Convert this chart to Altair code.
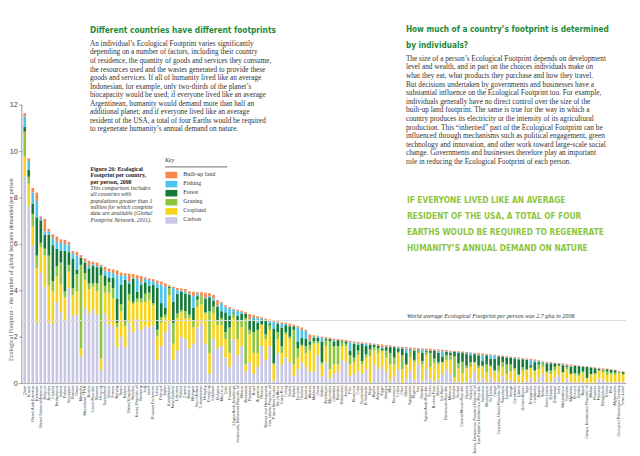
import altair as alt
import pandas as pd

countries = [
    "Qatar", "Kuwait", "United Arab Emirates", "Denmark", "United States of America", "Belgium", "Australia", "Canada", "Netherlands", "Ireland",
    "Finland", "Singapore", "Sweden", "Oman", "Mongolia", "Macedonia TFYR", "Austria", "Czech Republic", "Slovenia", "Uruguay",
    "Switzerland", "Greece", "France", "Norway", "Spain", "Estonia", "United Kingdom", "Slovakia", "Korea, Republic of", "Germany",
    "Italy", "Israel", "Russian Federation", "Latvia", "Portugal", "Japan", "Kazakhstan", "New Zealand", "Lithuania", "Poland",
    "Croatia", "Belarus", "Malaysia", "Saudi Arabia", "Turkmenistan", "Hungary", "Paraguay", "Lebanon", "Bulgaria", "Mauritius",
    "Chile", "Panama", "Libyan Arab Jamahiriya", "Venezuela, Bolivarian Republic of", "Mexico", "Botswana", "Romania", "Brazil", "Argentina", "Ukraine",
    "Bosnia and Herzegovina", "Iran, Islamic Republic of", "Papua New Guinea", "South Africa", "Costa Rica", "Turkey", "Serbia", "Bolivia", "Ecuador", "Thailand",
    "Jamaica", "Albania", "Moldova", "China", "Gabon", "Azerbaijan", "Mauritania", "Colombia", "Namibia", "Uzbekistan",
    "Jordan", "Peru", "Honduras", "Cuba", "Guatemala", "El Salvador", "Niger", "Algeria", "Armenia", "Egypt",
    "Georgia", "Mali", "Nicaragua", "Tunisia", "Chad", "Ghana", "Kyrgyzstan", "Nigeria", "Iraq", "Gambia",
    "Syrian Arab Republic", "Sudan", "Burkina Faso", "Benin", "Viet Nam", "Dominican Republic", "Morocco", "Somalia", "Guinea", "Central African Republic",
    "Uganda", "Senegal", "Korea, Democratic People's Republic of", "Lao People's Democratic Republic", "Indonesia", "Madagascar", "Sri Lanka", "Congo", "Tanzania, United Republic of", "Swaziland",
    "Lesotho", "Kenya", "Cameroon", "Liberia", "Guinea-Bissau", "Togo", "Philippines", "Cambodia", "Angola", "Yemen",
    "Sierra Leone", "Ethiopia", "Zimbabwe", "India", "Mozambique", "Tajikistan", "Myanmar", "Burundi", "Zambia", "Nepal",
    "Congo, Democratic Republic of", "Malawi", "Rwanda", "Pakistan", "Bangladesh", "Eritrea", "Haiti", "Afghanistan", "Occupied Palestinian Territory", "Timor-Leste",
]

carbon = [
    8.9, 7.65, 5.95, 2.55, 4.75, 4.15, 2.6, 2.55, 3.5, 3.05,
    2.7, 4.1, 2.9, 2.95, 1.15, 3.25, 3.0, 3.15, 2.95, 0.55,
    3.0, 2.55, 2.45, 1.55, 2.0, 1.55, 2.6, 2.2, 2.75, 2.3,
    2.45, 2.4, 2.5, 1.0, 1.6, 2.2, 2.6, 1.0, 1.4, 2.0,
    1.9, 1.5, 1.7, 2.4, 2.6, 1.7, 0.4, 1.9, 1.5, 1.6,
    1.1, 0.7, 1.9, 1.2, 1.6, 0.5, 0.9, 0.4, 0.7, 1.6,
    1.0, 1.6, 0.1, 1.3, 0.8, 1.1, 0.9, 0.3, 0.6, 0.9,
    0.7, 0.5, 0.5, 1.2, 0.3, 0.9, 0.2, 0.4, 0.5, 1.0,
    0.9, 0.3, 0.4, 0.5, 0.4, 0.6, 0.05, 0.8, 0.6, 0.7,
    0.5, 0.1, 0.3, 0.6, 0.0, 0.2, 0.5, 0.15, 0.8, 0.1,
    0.6, 0.2, 0.05, 0.2, 0.4, 0.6, 0.4, 0.05, 0.05, 0.02,
    0.05, 0.2, 0.5, 0.1, 0.2, 0.05, 0.25, 0.1, 0.05, 0.3,
    0.1, 0.15, 0.05, 0.02, 0.03, 0.1, 0.25, 0.05, 0.25, 0.4,
    0.05, 0.05, 0.25, 0.35, 0.05, 0.2, 0.05, 0.02, 0.05, 0.05,
    0.0, 0.02, 0.02, 0.2, 0.15, 0.05, 0.05, 0.05, 0.05, 0.05,
]
cropland = [
    0.9, 0.95, 0.8, 2.4, 1.1, 1.35, 1.6, 1.4, 1.1, 1.2,
    1.0, 0.7, 0.9, 1.0, 0.35, 1.2, 1.05, 1.0, 1.0, 0.5,
    0.9, 1.35, 1.2, 0.85, 1.1, 0.9, 0.95, 1.2, 0.75, 1.15,
    1.05, 1.2, 0.85, 1.0, 1.0, 0.6, 1.2, 0.7, 1.4, 1.05,
    0.9, 1.3, 0.7, 0.9, 0.8, 1.3, 0.9, 1.1, 1.0, 0.9,
    0.8, 0.6, 0.9, 0.7, 0.8, 0.3, 1.2, 0.9, 0.6, 0.9,
    0.9, 0.7, 0.7, 0.6, 0.5, 1.0, 1.0, 0.5, 0.5, 0.7,
    0.6, 0.9, 1.2, 0.5, 0.5, 0.7, 0.4, 0.4, 0.3, 0.6,
    0.7, 0.5, 0.5, 0.7, 0.4, 0.5, 1.1, 0.6, 0.7, 0.7,
    0.6, 0.7, 0.5, 0.7, 0.6, 0.6, 0.6, 0.75, 0.5, 0.7,
    0.6, 0.5, 0.8, 0.6, 0.5, 0.4, 0.6, 0.2, 0.6, 0.4,
    0.6, 0.5, 0.4, 0.55, 0.5, 0.4, 0.45, 0.4, 0.45, 0.4,
    0.3, 0.35, 0.5, 0.3, 0.5, 0.45, 0.4, 0.45, 0.35, 0.3,
    0.4, 0.35, 0.3, 0.4, 0.4, 0.4, 0.35, 0.35, 0.25, 0.4,
    0.2, 0.35, 0.35, 0.35, 0.35, 0.3, 0.35, 0.3, 0.4, 0.3,
]
grazing = [
    1.05, 0.3, 0.55, 0.55, 0.2, 0.3, 1.3, 0.45, 0.45, 0.95,
    0.25, 0.3, 0.3, 0.75, 3.6, 0.3, 0.25, 0.15, 0.35, 3.6,
    0.3, 0.45, 0.45, 0.2, 0.3, 0.2, 0.3, 0.1, 0.15, 0.2,
    0.35, 0.3, 0.1, 0.3, 0.25, 0.15, 0.3, 0.9, 0.2, 0.1,
    0.3, 0.15, 0.3, 0.3, 0.35, 0.05, 1.8, 0.3, 0.2, 0.3,
    0.3, 1.1, 0.2, 0.8, 0.3, 2.0, 0.2, 0.9, 1.0, 0.05,
    0.2, 0.2, 0.05, 0.3, 0.3, 0.1, 0.1, 1.5, 0.4, 0.05,
    0.3, 0.25, 0.1, 0.1, 0.1, 0.25, 1.2, 0.8, 0.8, 0.15,
    0.1, 0.4, 0.2, 0.2, 0.15, 0.15, 0.3, 0.15, 0.2, 0.0,
    0.3, 0.5, 0.3, 0.05, 0.6, 0.0, 0.3, 0.1, 0.1, 0.15,
    0.15, 0.6, 0.2, 0.1, 0.0, 0.2, 0.2, 0.9, 0.2, 0.5,
    0.1, 0.2, 0.0, 0.1, 0.05, 0.35, 0.05, 0.05, 0.25, 0.2,
    0.4, 0.3, 0.1, 0.05, 0.15, 0.05, 0.02, 0.05, 0.2, 0.15,
    0.05, 0.15, 0.15, 0.0, 0.02, 0.1, 0.0, 0.05, 0.1, 0.05,
    0.02, 0.02, 0.05, 0.0, 0.0, 0.15, 0.05, 0.1, 0.0, 0.05,
]
forest = [
    0.2, 0.3, 0.45, 1.65, 0.97, 0.6, 0.9, 1.55, 0.75, 0.5,
    1.75, 0.55, 1.25, 0.2, 0.3, 0.45, 0.65, 0.75, 0.7, 0.35,
    0.45, 0.2, 0.45, 1.05, 0.85, 1.8, 0.45, 1.0, 0.3, 0.6,
    0.5, 0.3, 0.8, 1.8, 0.6, 0.3, 0.05, 0.9, 0.85, 0.8,
    0.75, 0.85, 0.55, 0.15, 0.0, 0.6, 0.6, 0.25, 0.6, 0.3,
    0.85, 0.5, 0.05, 0.2, 0.3, 0.2, 0.4, 0.55, 0.3, 0.2,
    0.6, 0.05, 1.5, 0.35, 0.8, 0.3, 0.45, 0.15, 0.3, 0.3,
    0.3, 0.15, 0.15, 0.15, 0.9, 0.05, 0.1, 0.2, 0.25, 0.05,
    0.1, 0.2, 0.6, 0.25, 0.75, 0.35, 0.2, 0.1, 0.1, 0.1,
    0.15, 0.25, 0.45, 0.15, 0.3, 0.5, 0.05, 0.4, 0.05, 0.35,
    0.05, 0.1, 0.35, 0.4, 0.25, 0.15, 0.1, 0.2, 0.45, 0.4,
    0.5, 0.3, 0.35, 0.45, 0.2, 0.4, 0.3, 0.5, 0.4, 0.25,
    0.3, 0.3, 0.4, 0.65, 0.35, 0.4, 0.1, 0.35, 0.1, 0.02,
    0.35, 0.3, 0.15, 0.07, 0.3, 0.05, 0.3, 0.33, 0.33, 0.2,
    0.48, 0.28, 0.22, 0.07, 0.05, 0.1, 0.12, 0.1, 0.02, 0.08,
]
fishing = [
    0.45, 0.38, 0.47, 0.7, 0.1, 0.15, 0.15, 0.3, 0.3, 0.35,
    0.3, 0.3, 0.25, 0.6, 0.02, 0.05, 0.1, 0.08, 0.05, 0.05,
    0.2, 0.25, 0.2, 1.0, 0.4, 0.2, 0.1, 0.05, 0.55, 0.1,
    0.15, 0.25, 0.15, 0.2, 0.8, 0.9, 0.02, 0.6, 0.15, 0.05,
    0.1, 0.05, 0.5, 0.1, 0.01, 0.03, 0.05, 0.1, 0.05, 0.35,
    0.25, 0.3, 0.1, 0.2, 0.07, 0.01, 0.05, 0.1, 0.2, 0.05,
    0.02, 0.1, 0.3, 0.05, 0.15, 0.05, 0.02, 0.0, 0.6, 0.35,
    0.35, 0.05, 0.04, 0.07, 0.15, 0.01, 0.02, 0.05, 0.01, 0.0,
    0.02, 0.35, 0.05, 0.05, 0.02, 0.1, 0.0, 0.02, 0.02, 0.05,
    0.02, 0.01, 0.02, 0.05, 0.01, 0.2, 0.0, 0.05, 0.01, 0.15,
    0.01, 0.0, 0.0, 0.1, 0.2, 0.03, 0.05, 0.0, 0.05, 0.0,
    0.05, 0.1, 0.03, 0.02, 0.25, 0.03, 0.15, 0.15, 0.02, 0.0,
    0.0, 0.02, 0.03, 0.05, 0.02, 0.02, 0.22, 0.07, 0.05, 0.04,
    0.05, 0.0, 0.0, 0.02, 0.04, 0.0, 0.05, 0.0, 0.01, 0.0,
    0.01, 0.01, 0.0, 0.01, 0.03, 0.0, 0.01, 0.0, 0.01, 0.0,
]
builtup = [
    0.15, 0.12, 0.2, 0.37, 0.07, 0.53, 0.1, 0.17, 0.22, 0.15,
    0.18, 0.13, 0.1, 0.16, 0.1, 0.13, 0.23, 0.11, 0.15, 0.05,
    0.17, 0.14, 0.15, 0.21, 0.11, 0.09, 0.32, 0.15, 0.16, 0.27,
    0.06, 0.07, 0.08, 0.12, 0.13, 0.15, 0.05, 0.06, 0.1, 0.08,
    0.11, 0.11, 0.19, 0.07, 0.16, 0.22, 0.13, 0.15, 0.23, 0.05,
    0.06, 0.08, 0.05, 0.06, 0.05, 0.05, 0.23, 0.09, 0.08, 0.04,
    0.06, 0.09, 0.05, 0.06, 0.07, 0.05, 0.09, 0.07, 0.06, 0.1,
    0.05, 0.25, 0.07, 0.02, 0.05, 0.07, 0.04, 0.07, 0.04, 0.08,
    0.04, 0.07, 0.05, 0.08, 0.04, 0.04, 0.07, 0.03, 0.06, 0.11,
    0.07, 0.06, 0.03, 0.03, 0.05, 0.05, 0.08, 0.07, 0.04, 0.05,
    0.08, 0.08, 0.06, 0.05, 0.09, 0.04, 0.05, 0.04, 0.03, 0.04,
    0.04, 0.02, 0.03, 0.08, 0.08, 0.03, 0.04, 0.02, 0.03, 0.03,
    0.06, 0.02, 0.04, 0.03, 0.03, 0.04, 0.05, 0.05, 0.03, 0.03,
    0.02, 0.05, 0.03, 0.03, 0.04, 0.07, 0.05, 0.03, 0.02, 0.04,
    0.01, 0.02, 0.04, 0.03, 0.06, 0.02, 0.02, 0.03, 0.04, 0.02,
]

components = ["Carbon", "Cropland", "Grazing", "Forest", "Fishing", "Built-up land"]
colors = ["#c8c7e6", "#f7d31c", "#8cc63f", "#137a37", "#4dc3ee", "#f5874f"]
legend_order = ["Built-up land", "Fishing", "Forest", "Grazing", "Cropland", "Carbon"]
world_avg = 2.7
y_ticks = [0, 2, 4, 6, 8, 10, 12]

title_left = "Different countries have different footprints"
para_left = [
    "An individual\u2019s Ecological Footprint varies significantly",
    "depending on a number of factors, including their country",
    "of residence, the quantity of goods and services they consume,",
    "the resources used and the wastes generated to provide these",
    "goods and services. If all of humanity lived like an average",
    "Indonesian, for example, only two-thirds of the planet\u2019s",
    "biocapacity would be used; if everyone lived like an average",
    "Argentinean, humanity would demand more than half an",
    "additional planet; and if everyone lived like an average",
    "resident of the USA, a total of four Earths would be required",
    "to regenerate humanity\u2019s annual demand on nature.",
]
title_right = ["How much of a country\u2019s footprint is determined", "by individuals?"]
para_right = [
    "The size of a person\u2019s Ecological Footprint depends on development",
    "level and wealth, and in part on the choices individuals make on",
    "what they eat, what products they purchase and how they travel.",
    "But decisions undertaken by governments and businesses have a",
    "substantial influence on the Ecological Footprint too. For example,",
    "individuals generally have no direct control over the size of the",
    "built-up land footprint. The same is true for the way in which a",
    "country produces its electricity or the intensity of its agricultural",
    "production. This \u201cinherited\u201d part of the Ecological Footprint can be",
    "influenced through mechanisms such as political engagement, green",
    "technology and innovation, and other work toward large-scale social",
    "change. Governments and businesses therefore play an important",
    "role in reducing the Ecological Footprint of each person.",
]
quote = [
    "IF EVERYONE LIVED LIKE AN AVERAGE",
    "RESIDENT OF THE USA, A TOTAL OF FOUR",
    "EARTHS WOULD BE REQUIRED TO REGENERATE",
    "HUMANITY\u2019S ANNUAL DEMAND ON NATURE",
]
caption_bold = ["Figure 26: Ecological", "Footprint per country,", "per person, 2008"]
caption_ital = [
    "This comparison includes",
    "all countries with",
    "populations greater than 1",
    "million for which complete",
    "data are available (Global",
    "Footprint Network, 2011).",
]
y_title = "Ecological Footprint \u2013 the number of global hectares demanded per person"
avg_label = "World average Ecological Footprint per person was 2.7 gha in 2008"

series = [carbon, cropland, grazing, forest, fishing, builtup]
rows = []
for i, c in enumerate(countries):
    for k, comp in enumerate(components):
        rows.append({"country": c, "component": comp, "order": k, "value": series[k][i]})
df = pd.DataFrame(rows)
one = pd.DataFrame({"a": [0]})

W, H = 612, 377
YMAX = 16.06
SERIF = "Liberation Serif, Times New Roman, serif"
NARROW = "Liberation Sans Narrow, DejaVu Sans Condensed, Liberation Sans, sans-serif"
SANS = "Liberation Sans, Arial, sans-serif"

y_axis = alt.Axis(values=y_ticks, title=None, orient="left", domain=False, grid=False,
                  tickSize=3, tickColor="#999999", labelFont=SANS, labelFontSize=7.5,
                  labelColor="#444444", labelPadding=1.5)

bars = alt.Chart(df).mark_bar().encode(
    x=alt.X(
        "country:N", sort=countries,
        scale=alt.Scale(paddingInner=0.35, paddingOuter=0.4),
        axis=alt.Axis(title=None, labelAngle=-90, labelFontSize=3.9, labelFont=SANS,
                      labelColor="#444444", labelOverlap=False, labelPadding=2,
                      ticks=False, domainColor="#aaaaaa", labelLimit=300),
    ),
    y=alt.Y(
        "value:Q", stack="zero",
        scale=alt.Scale(domain=[0, YMAX], nice=False, zero=True),
        axis=y_axis,
    ),
    color=alt.Color("component:N", scale=alt.Scale(domain=components, range=colors), legend=None),
    order=alt.Order("order:Q", sort="ascending"),
)

avg_rule = alt.Chart(one).mark_rule(color="#dcdcdc", strokeWidth=1).encode(
    x=alt.value(0), x2=alt.value(W), y=alt.YDatum(world_avg, type="quantitative", axis=y_axis)
)
axis_rule = alt.Chart(one).mark_rule(color="#999999", strokeWidth=1).encode(
    x=alt.value(0), y=alt.YDatum(0, type="quantitative", axis=y_axis), y2=alt.Y2Datum(y_ticks[-1])
)
avg_text = alt.Chart(one).mark_text(
    align="left", baseline="alphabetic", dy=-3, font=SERIF, fontSize=6.2, fontStyle="italic", color="#333333"
).encode(x=alt.value(390), y=alt.YDatum(world_avg, type="quantitative", axis=y_axis), text=alt.value(avg_label))


def text_block(lines, x, y, size, color, font, lh=None, weight="normal", style="normal", angle=0, align="left"):
    return alt.Chart(one).mark_text(
        align=align, baseline="middle", font=font, fontSize=size, fontWeight=weight,
        fontStyle=style, color=color, lineHeight=lh if lh else size * 1.2, angle=angle,
    ).encode(x=alt.value(x), y=alt.value(y), text=alt.value(lines))


layers = [
    bars, avg_rule, axis_rule, avg_text,
    text_block(title_left, 69, 19.5, 8.4, "#1e8a3c", NARROW, weight="bold"),
    text_block(para_left, 69, 33.5, 7.35, "#333333", SERIF, lh=8.66),
    text_block(title_right, 389, 19.5, 8.3, "#1e8a3c", NARROW, lh=16, weight="bold"),
    text_block(para_right, 389, 48.5, 7.4, "#333333", SERIF, lh=8.72),
    text_block(quote, 390, 192, 8.4, "#8dc63f", NARROW, lh=16, weight="bold"),
    text_block(caption_bold, 69.5, 160, 5.9, "#222222", SERIF, lh=6.45, weight="bold"),
    text_block(caption_ital, 69.5, 160 + 3 * 6.45, 5.9, "#333333", SERIF, lh=6.45, style="italic"),
    text_block("Key", 145, 151, 6.2, "#333333", SERIF, style="italic"),
    alt.Chart(one).mark_rule(color="#8a8a8a", strokeWidth=1.2).encode(
        x=alt.value(145), x2=alt.value(208), y=alt.value(158)),
    text_block(legend_order, 163.5, 165.3, 6.1, "#333333", SERIF, lh=9.2),
    text_block(y_title, -10.8, 262, 6.2, "#555555", SERIF, angle=270, align="center"),
]
for k, name in enumerate(legend_order):
    col = colors[components.index(name)]
    yc = 166.3 + 9.2 * k
    layers.append(
        alt.Chart(one).mark_rect(color=col).encode(
            x=alt.value(145.5), x2=alt.value(157.5), y=alt.value(yc - 3.3), y2=alt.value(yc + 3.3))
    )

chart = alt.layer(*layers).properties(
    width=W, height=H,
    autosize=alt.AutoSizeParams(type="none"),
    padding={"left": 14, "top": 0, "right": 6, "bottom": 71},
    background="white",
).configure_view(strokeWidth=0)

chart.save("out.html", embed_options={"renderer": "svg", "actions": False})
